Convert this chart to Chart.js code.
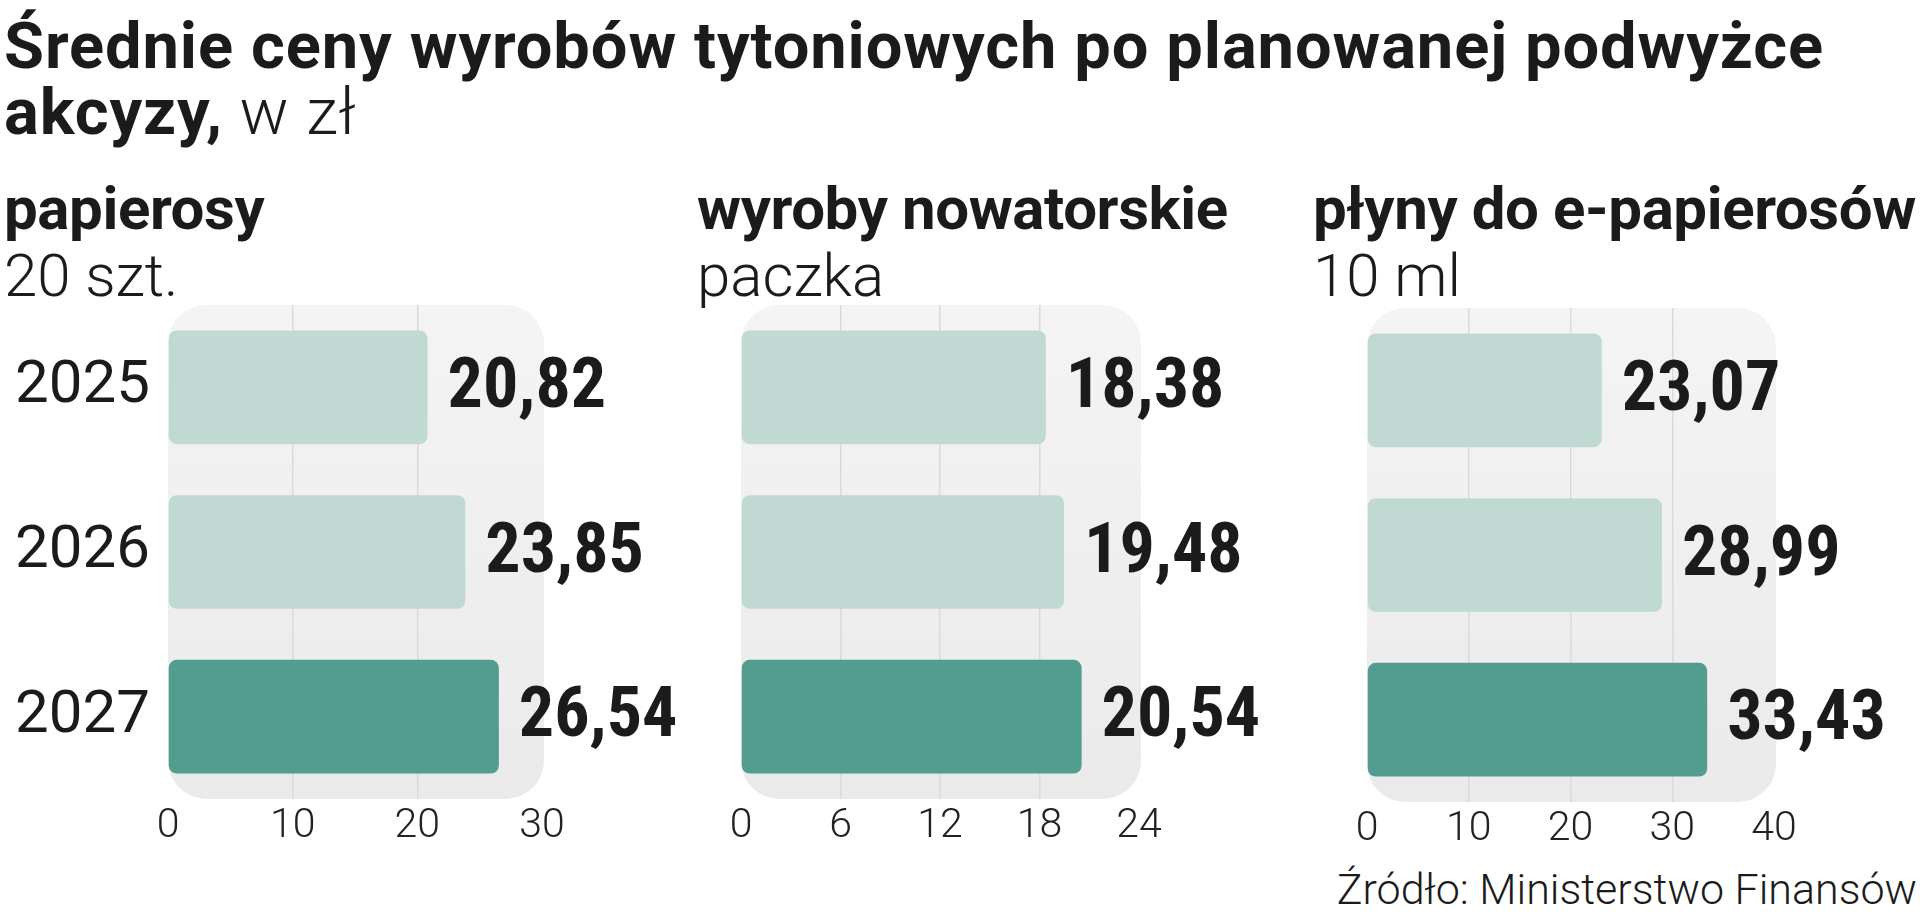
<!DOCTYPE html>
<html>
<head>
<meta charset="utf-8">
<script src="https://cdn.jsdelivr.net/npm/chart.js"></script>
<style>
  body { margin: 0; width: 1920px; height: 916px; background: #fff; overflow: hidden; position: relative;
         font-family: Roboto, sans-serif; color: #1b1b1b; }
  .t { position: absolute; white-space: nowrap; }
  .lt { font-weight: 300; }
  #title { left: 4px; top: 13px; font-size: 65px; line-height: 66px; font-weight: 700; letter-spacing: 0.9px; }
  .head { font-size: 60px; line-height: 68px; font-weight: 700; top: 175px; letter-spacing: -0.4px; }
  .sub { font-size: 60px; line-height: 68px; font-weight: 300; top: 242px; }
  #src { right: 3px; top: 865px; font-size: 43px; line-height: 49px; font-weight: 300; }
  canvas { position: absolute; }
</style>
</head>
<body>
<div class="t" id="title">Średnie ceny wyrobów tytoniowych po planowanej podwyżce<br>akcyzy,<span class="lt"> w zł</span></div>

<div class="t head" style="left:4px">papierosy</div>
<div class="t sub" style="left:4px">20 szt.</div>
<div class="t head" style="left:697px">wyroby nowatorskie</div>
<div class="t sub" style="left:697px">paczka</div>
<div class="t head" style="left:1313px">płyny do e-papierosów</div>
<div class="t sub" style="left:1313px">10 ml</div>

<div class="t" id="src">Źródło: Ministerstwo Finansów</div>

<canvas id="c1"></canvas>
<canvas id="c2"></canvas>
<canvas id="c3"></canvas>

<script>
const years = ["2025", "2026", "2027"];

const cigarettes = [20.82, 23.85, 26.54];
const novelProducts = [18.38, 19.48, 20.54];
const eLiquids = [23.07, 28.99, 33.43];

const cigTicks = [0, 10, 20, 30];
const novelTicks = [0, 6, 12, 18, 24];
const liquidTicks = [0, 10, 20, 30, 40];

const light = "#c0d9d2";
const dark = "#529d90";
const ink = "#1b1b1b";

function fmt(v) {
  return v.toFixed(2).replace(".", ",");
}

// rounded grey panel behind the bars
const bgPlugin = {
  id: "bg",
  beforeDraw(chart) {
    const { ctx, chartArea: a } = chart;
    const g = ctx.createLinearGradient(0, a.top, 0, a.bottom);
    g.addColorStop(0, "#f4f4f4");
    g.addColorStop(1, "#eaeaea");
    ctx.save();
    ctx.fillStyle = g;
    ctx.beginPath();
    ctx.roundRect(a.left, a.top, a.right - a.left + 2, a.bottom - a.top, 38);
    ctx.fill();
    ctx.restore();
  }
};

const valuePlugin = {
  id: "values",
  afterDatasetsDraw(chart) {
    const { ctx } = chart;
    const vals = chart.data.datasets[0].data;
    ctx.save();
    ctx.font = 'bold 70px "Liberation Sans Narrow", "Roboto Condensed", Roboto, sans-serif';
    ctx.fillStyle = ink;
    ctx.textBaseline = "middle";
    chart.getDatasetMeta(0).data.forEach((bar, i) => {
      ctx.fillText(fmt(vals[i]), bar.x + 20, bar.y + 2);
    });
    ctx.restore();
  }
};

function panel(id, values, tickVals, box, showYears) {
  const canvas = document.getElementById(id);
  canvas.width = box.w;
  canvas.height = box.h;
  canvas.style.left = box.x + "px";
  canvas.style.top = box.y + "px";

  const max = tickVals[tickVals.length - 1];

  new Chart(canvas, {
    type: "bar",
    data: {
      labels: years,
      datasets: [{
        data: values,
        backgroundColor: years.map((y, i) => (i === years.length - 1 ? dark : light)),
        borderRadius: 8,
        borderSkipped: false,
        barPercentage: 0.69,
        categoryPercentage: 1
      }]
    },
    options: {
      indexAxis: "y",
      responsive: false,
      animation: false,
      devicePixelRatio: 1,
      layout: { padding: { top: 15, right: box.w - box.right, left: 0, bottom: 0 } },
      plugins: { legend: { display: false }, tooltip: { enabled: false } },
      scales: {
        x: {
          min: 0,
          max: max,
          afterBuildTicks: ax => { ax.ticks = tickVals.map(v => ({ value: v })); },
          grid: {
            drawTicks: false,
            lineWidth: 1.5,
            color: c => (c.tick && (c.tick.value === 0 || c.tick.value === max) ? "rgba(0,0,0,0)" : "#dadada")
          },
          border: { display: false },
          ticks: { padding: 3, color: "#222", font: { family: "Roboto", weight: 300, size: 41 } },
          afterFit: s => { s.height = box.h - 15 - 494; }
        },
        y: {
          grid: { display: false },
          border: { display: false },
          ticks: { display: showYears, padding: 10, color: ink, font: { family: "Roboto", size: 60 } },
          afterFit: s => {
            s.width = box.left;
            s.paddingTop = 0;
            s.paddingBottom = 0;
          }
        }
      }
    },
    plugins: [bgPlugin, valuePlugin]
  });
}

panel("c1", cigarettes, cigTicks, { x: 0, y: 290, w: 690, h: 560, left: 168, right: 542 }, true);
panel("c2", novelProducts, novelTicks, { x: 690, y: 290, w: 640, h: 560, left: 51, right: 449 }, false);
panel("c3", eLiquids, liquidTicks, { x: 1310, y: 293, w: 610, h: 560, left: 57, right: 464 }, false);
</script>
</body>
</html>
